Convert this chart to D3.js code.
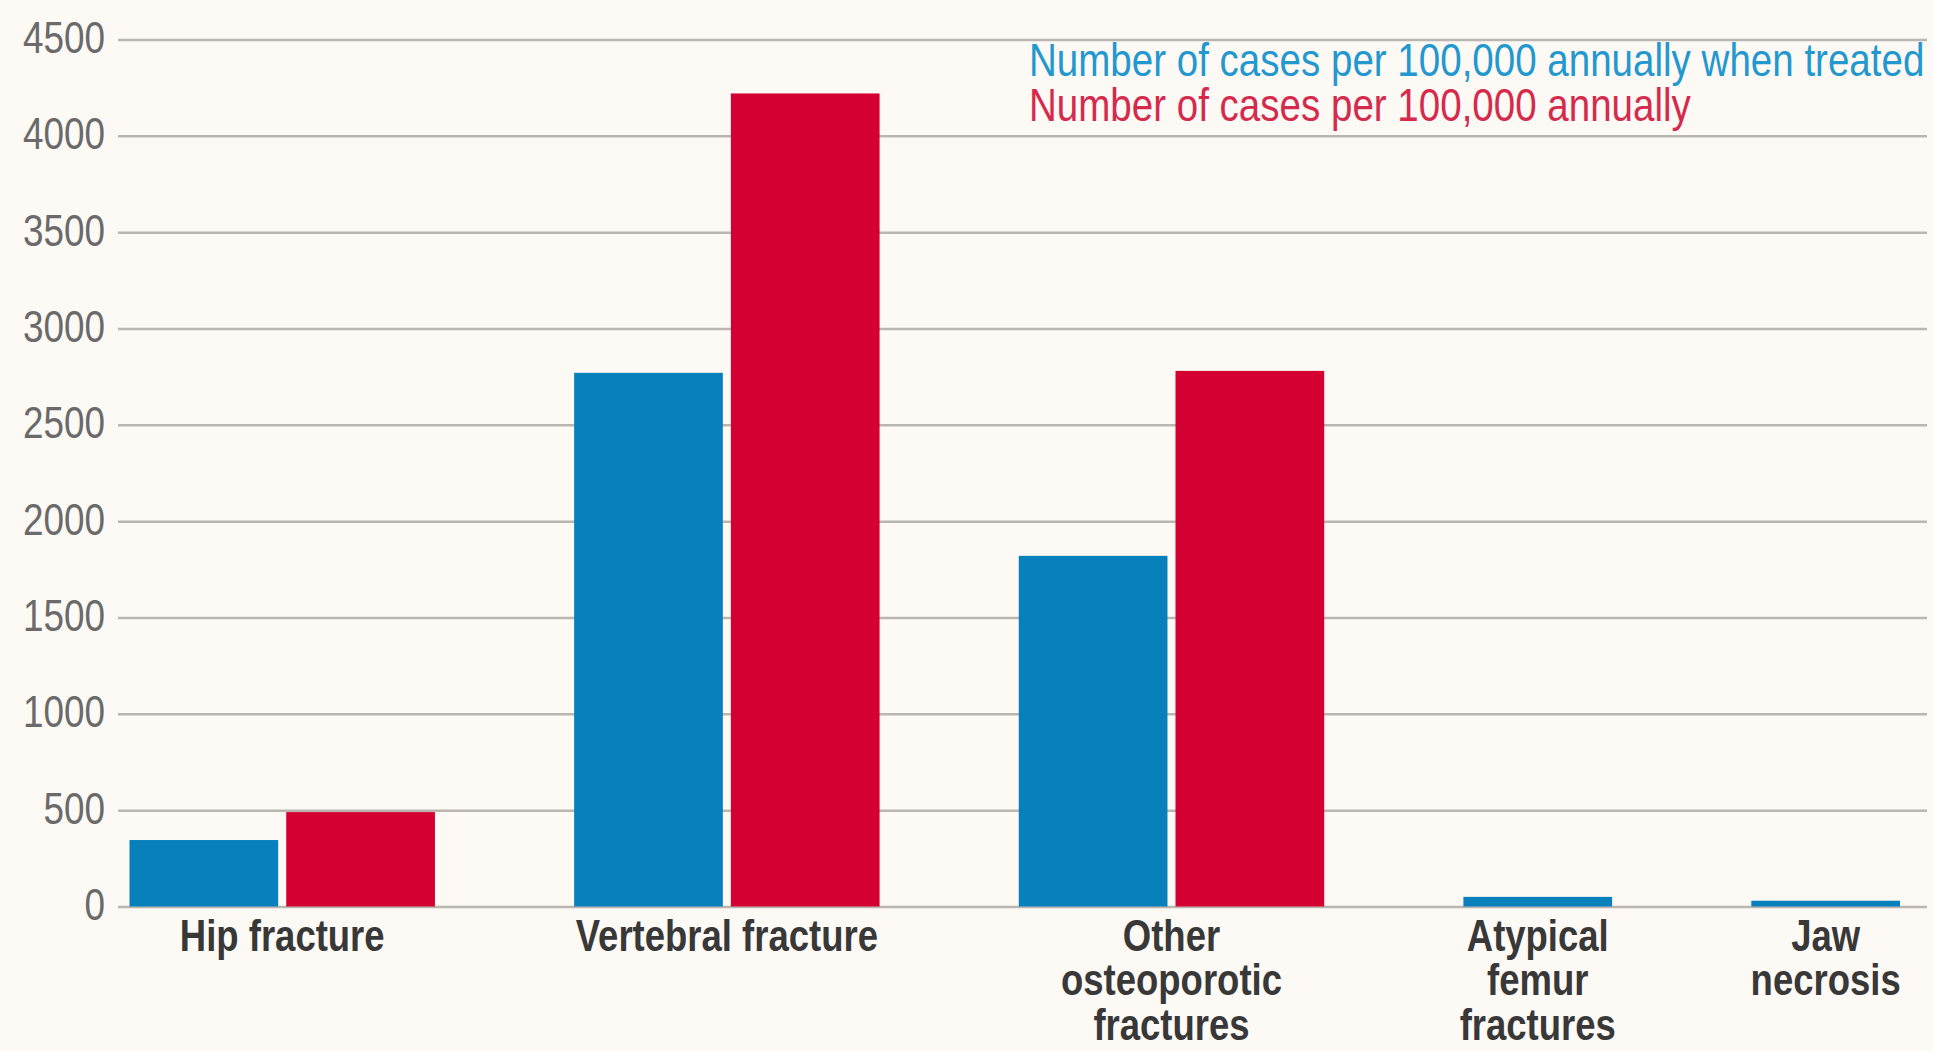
<!DOCTYPE html>
<html>
<head>
<meta charset="utf-8">
<script src="https://cdn.jsdelivr.net/npm/d3@7"></script>
<style>
  html, body { margin: 0; padding: 0; background: #fdf9f5; }
  svg { display: block; }
  text { font-family: "Liberation Sans", Arial, sans-serif; }
</style>
</head>
<body>
<svg id="chart" width="1933" height="1051"></svg>
<script>
// ---- data ----
const categories = ["Hip fracture", "Vertebral fracture", "Other osteoporotic fractures", "Atypical femur fractures", "Jaw necrosis"];
const categoryLines = [["Hip fracture"], ["Vertebral fracture"], ["Other", "osteoporotic", "fractures"], ["Atypical", "femur", "fractures"], ["Jaw", "necrosis"]];
const treated = [345, 2770, 1820, 50, 30];
const untreated = [490, 4220, 2780, null, null];
const seriesNames = ["Number of cases per 100,000 annually when treated", "Number of cases per 100,000 annually"];
const yTicks = [0, 500, 1000, 1500, 2000, 2500, 3000, 3500, 4000, 4500];

// ---- styles ----
const W = 1933, H = 1051;
const colors = ["#0880bc", "#d50032"];
const legendColors = ["#2398cf", "#d52a4c"];
const NARROW = 0.82; // emulate a condensed face via horizontal scaling
const svg = d3.select("#chart");
svg.append("rect").attr("width", W).attr("height", H).attr("fill", "#fdf9f5");

// place a condensed text: group translated to (px,py), scaled horizontally
function narrowText(parent, px, py) {
  return parent.append("g")
    .attr("transform", `translate(${px},${py}) scale(${NARROW},1)`)
    .append("text").attr("x", 0).attr("y", 0);
}

const y = d3.scaleLinear().domain([0, 4500]).range([906.5, 39.5]);

// layout in "bar units": each bar = 1 unit, inner gap, outer gap between groups
const innerGap = 0.054, outerGap = 0.936;
const groups = categories.map((c, i) => {
  const vals = [treated[i], untreated[i]].map((v, s) => ({ v, s })).filter(d => d.v != null);
  return { cat: c, i, vals };
});
let cursor = 0;
groups.forEach((g, gi) => {
  if (gi > 0) cursor += outerGap;
  g.start = cursor;
  g.vals.forEach((d, k) => { d.u = cursor + k * (1 + innerGap); });
  cursor += g.vals.length + (g.vals.length - 1) * innerGap;
  g.end = cursor;
});
const x = d3.scaleLinear().domain([0, cursor]).range([129.5, 1900]);

// gridlines
const gridAxis = d3.axisLeft(y).tickValues(yTicks).tickSize(-(1927 - 118)).tickFormat("");
const ga = svg.append("g").attr("transform", "translate(118,0)").call(gridAxis);
ga.select(".domain").remove();
ga.selectAll(".tick line").attr("stroke", "#bab6b1").attr("stroke-width", 2.5);

// y tick labels (condensed)
const tickG = svg.append("g");
yTicks.forEach(t => {
  narrowText(tickG, 105, y(t))
    .attr("dy", "0.3em")
    .attr("text-anchor", "end")
    .attr("fill", "#6a6a6a")
    .style("font-size", "45px")
    .text(t);
});

// bars
const barG = svg.append("g");
groups.forEach(g => {
  barG.selectAll(null).data(g.vals).enter().append("rect")
    .attr("x", d => x(d.u))
    .attr("width", d => x(d.u + 1) - x(d.u))
    .attr("y", d => y(d.v))
    .attr("height", d => y(0) - y(d.v))
    .attr("fill", d => colors[d.s]);
});

// category labels (one text per category, lines as tspans)
const labG = svg.append("g");
groups.forEach(g => {
  const cx = (x(g.start) + x(g.end)) / 2;
  const t = narrowText(labG, cx, 951)
    .attr("text-anchor", "middle")
    .attr("fill", "#383838")
    .style("font-size", "44.5px").style("font-weight", "bold");
  categoryLines[g.i].forEach((line, k) => {
    t.append("tspan").attr("x", 0).attr("dy", k === 0 ? 0 : 44.5).text(line);
  });
});

// legend (one text block, one coloured line per series)
const leg = narrowText(svg.append("g"), 1029, 76).style("font-size", "47px");
seriesNames.forEach((name, i) => {
  leg.append("tspan")
    .attr("x", 0).attr("dy", i === 0 ? 0 : 45.5)
    .attr("fill", legendColors[i])
    .text(name);
});
</script>
</body>
</html>
